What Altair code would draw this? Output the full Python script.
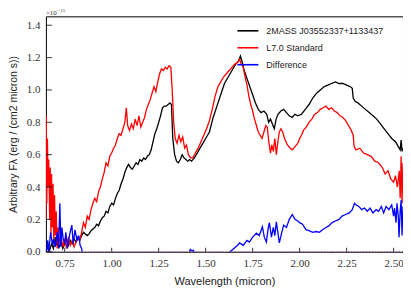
import altair as alt
import pandas as pd

# ---- data (flux in units of 1e-15) ----
black_w = [0.650,0.660,0.670,0.680,0.690,0.700,0.705,0.710,0.720,0.730,0.740,0.750,0.760,0.770,0.780,0.790,0.800,0.810,0.820,0.830,
           0.840,0.850,0.860,0.870,0.880,0.890,0.900,0.910,0.920,0.930,0.940,0.950,0.960,0.970,0.980,0.990,1.000,1.010,1.020,1.030,
           1.040,1.050,1.060,1.070,1.080,1.090,1.100,1.110,1.120,1.130,1.140,1.150,1.160,1.170,1.180,1.190,1.200,1.210,1.220,1.230,
           1.240,1.250,1.260,1.270,1.280,1.290,1.300,1.310,1.318,1.325,1.335,1.345,1.355,1.365,1.375,1.385,1.395,1.405,1.415,1.425,
           1.440,1.455,1.470,1.485,1.500,1.520,1.540,1.560,1.580,1.600,1.620,1.640,1.660,1.675,1.685,1.695,1.705,1.720,1.735,1.750,
           1.765,1.780,1.795,1.810,1.825,1.835,1.845,1.855,1.865,1.875,1.885,1.900,1.915,1.930,1.945,1.960,1.975,1.990,2.010,2.030,
           2.050,2.070,2.090,2.110,2.130,2.150,2.170,2.190,2.210,2.230,2.250,2.270,2.280,2.285,2.295,2.310,2.330,2.350,2.370,2.390,
           2.410,2.430,2.450,2.470,2.490,2.510,2.525,2.535,2.540,2.545,2.550]
black_f = [0.00,0.03,0.01,0.05,0.02,0.09,0.04,0.07,0.03,0.06,0.02,0.05,0.08,0.04,0.07,0.05,0.08,0.06,0.09,0.07,
           0.10,0.12,0.11,0.10,0.11,0.13,0.14,0.15,0.17,0.16,0.19,0.21,0.22,0.25,0.24,0.28,0.30,0.29,0.33,0.36,
           0.38,0.42,0.45,0.49,0.52,0.54,0.52,0.51,0.53,0.55,0.54,0.57,0.56,0.58,0.57,0.59,0.60,0.63,0.68,0.73,
           0.76,0.80,0.84,0.89,0.90,0.90,0.91,0.92,0.91,0.70,0.60,0.56,0.55,0.57,0.60,0.58,0.57,0.56,0.57,0.56,
           0.58,0.61,0.64,0.67,0.70,0.74,0.83,0.90,0.97,1.04,1.08,1.12,1.16,1.18,1.21,1.17,1.12,1.07,1.02,0.97,
           0.92,0.88,0.86,0.87,0.85,0.80,0.82,0.79,0.76,0.82,0.85,0.87,0.88,0.86,0.84,0.83,0.85,0.84,0.85,0.88,
           0.91,0.95,0.98,1.00,1.02,1.03,1.04,1.05,1.04,1.04,1.03,1.02,1.01,0.95,0.93,0.92,0.90,0.88,0.86,0.84,
           0.82,0.79,0.76,0.73,0.70,0.68,0.65,0.63,0.69,0.62,0.64]

red_w = [0.650,0.652,0.655,0.658,0.662,0.665,0.670,0.673,0.677,0.680,0.684,0.688,0.692,0.696,0.700,0.705,0.710,0.715,0.720,0.730,
         0.740,0.750,0.760,0.770,0.780,0.790,0.800,0.810,0.820,0.830,0.840,0.850,0.860,0.870,0.880,0.890,0.900,0.910,0.920,0.930,
         0.940,0.950,0.960,0.970,0.980,0.990,1.000,1.010,1.020,1.030,1.040,1.050,1.060,1.070,1.078,1.085,1.095,1.105,1.115,1.125,
         1.135,1.145,1.155,1.165,1.175,1.185,1.195,1.205,1.215,1.225,1.235,1.245,1.255,1.265,1.275,1.285,1.295,1.305,1.315,1.322,
         1.330,1.338,1.348,1.358,1.368,1.378,1.388,1.398,1.408,1.420,1.432,1.445,1.460,1.475,1.490,1.505,1.520,1.535,1.550,1.565,
         1.580,1.595,1.610,1.625,1.640,1.655,1.670,1.680,1.690,1.700,1.710,1.720,1.730,1.740,1.750,1.760,1.770,1.780,1.790,1.800,
         1.810,1.820,1.828,1.836,1.845,1.852,1.860,1.868,1.876,1.884,1.892,1.900,1.910,1.920,1.935,1.950,1.962,1.975,1.990,2.000,
         2.010,2.020,2.035,2.050,2.065,2.080,2.095,2.110,2.125,2.140,2.155,2.170,2.185,2.200,2.215,2.230,2.245,2.260,2.275,2.285,
         2.290,2.300,2.320,2.340,2.360,2.380,2.400,2.420,2.440,2.455,2.470,2.485,2.500,2.510,2.520,2.530,2.535,2.540,2.545,2.550]
red_f = [0.20,0.84,0.30,0.70,0.40,0.57,0.20,0.52,0.10,0.48,0.15,0.42,0.05,0.35,0.10,0.25,0.02,0.15,0.05,0.10,
         0.03,0.08,0.02,0.09,0.04,0.07,0.03,0.06,0.08,0.07,0.12,0.18,0.15,0.22,0.20,0.26,0.30,0.33,0.31,0.37,
         0.40,0.45,0.49,0.55,0.53,0.59,0.61,0.64,0.66,0.70,0.73,0.72,0.76,0.80,0.89,0.78,0.75,0.79,0.76,0.82,
         0.78,0.84,0.77,0.80,0.83,0.88,0.91,0.94,0.98,1.02,0.99,1.05,1.10,1.13,1.12,1.14,1.13,1.15,1.14,1.00,
         0.80,0.70,0.67,0.72,0.68,0.71,0.64,0.66,0.60,0.58,0.58,0.61,0.64,0.68,0.72,0.76,0.81,0.88,0.96,1.02,
         1.05,1.08,1.10,1.12,1.14,1.16,1.17,1.19,1.16,1.14,1.08,1.03,0.96,0.91,0.87,0.82,0.78,0.74,0.72,0.70,
         0.74,0.78,0.77,0.68,0.61,0.66,0.62,0.70,0.60,0.68,0.74,0.76,0.74,0.70,0.66,0.64,0.63,0.65,0.67,0.70,
         0.72,0.75,0.77,0.80,0.82,0.85,0.86,0.88,0.89,0.90,0.88,0.89,0.87,0.86,0.84,0.83,0.81,0.78,0.75,0.72,
         0.65,0.63,0.64,0.61,0.60,0.59,0.56,0.55,0.52,0.48,0.50,0.45,0.43,0.47,0.40,0.50,0.33,0.59,0.30,0.55]

blue_w = [0.650,0.655,0.660,0.665,0.675,0.685,0.690,0.700,0.710,0.718,0.724,0.730,0.735,0.742,0.750,0.756,0.765,0.775,0.788,0.795,
          0.805,0.815,0.825,0.832,0.840,0.850,0.900,1.000,1.100,1.200,1.300,1.330,1.380,1.410,1.418,1.428,1.435,1.445,1.500,1.600,
          1.630,1.650,1.670,1.680,1.700,1.720,1.733,1.750,1.770,1.785,1.802,1.812,1.823,1.832,1.839,1.850,1.860,1.868,1.876,1.884,
          1.892,1.905,1.915,1.930,1.945,1.961,1.975,1.990,2.000,2.015,2.035,2.050,2.070,2.088,2.105,2.120,2.140,2.155,2.173,2.190,
          2.210,2.226,2.245,2.264,2.280,2.292,2.300,2.315,2.330,2.345,2.360,2.375,2.390,2.407,2.420,2.435,2.447,2.460,2.475,2.490,
          2.500,2.505,2.513,2.518,2.525,2.529,2.535,2.540,2.545,2.550]
blue_f = [0.00,0.01,0.07,0.00,0.12,0.04,0.08,0.03,0.12,0.02,0.30,0.03,0.15,0.08,0.05,0.12,0.02,0.10,0.165,0.05,
          0.135,0.07,0.10,0.04,0.02,-0.06,-0.16,-0.31,-0.25,-0.34,-0.23,-0.10,-0.10,-0.02,0.015,0.005,0.01,-0.03,-0.06,-0.04,
          0.00,0.02,0.04,0.055,0.04,0.07,0.06,0.09,0.115,0.10,0.155,0.09,0.06,0.14,0.18,0.09,0.15,0.10,0.185,0.12,
          0.055,0.12,0.165,0.15,0.20,0.23,0.20,0.19,0.18,0.17,0.135,0.13,0.12,0.125,0.12,0.135,0.15,0.16,0.18,0.19,
          0.20,0.22,0.23,0.24,0.26,0.30,0.29,0.28,0.26,0.27,0.25,0.27,0.24,0.26,0.25,0.28,0.24,0.28,0.26,0.29,
          0.22,0.27,0.18,0.30,0.22,0.09,0.25,0.32,0.10,0.28]

series_names = ["2MASS J03552337+1133437", "L7.0 Standard", "Difference"]
series_colors = ["#000000", "#ff0000", "#0000ff"]
x_ticks = [0.75, 1.00, 1.25, 1.50, 1.75, 2.00, 2.25, 2.50]
y_ticks = [0.0, 0.2, 0.4, 0.6, 0.8, 1.0, 1.2, 1.4]
x_domain = [0.65, 2.55]
y_domain = [0.0, 1.455]

W, H = 358, 236

df = pd.concat([
    pd.DataFrame({"w": black_w, "f": black_f, "s": series_names[0], "o": 0}),
    pd.DataFrame({"w": red_w, "f": red_f, "s": series_names[1], "o": 1}),
    pd.DataFrame({"w": blue_w, "f": blue_f, "s": series_names[2], "o": 2}),
], ignore_index=True)

tick_font = "Liberation Serif"
label_font = "Liberation Sans"

xscale = alt.Scale(domain=x_domain, nice=False, zero=False)
yscale = alt.Scale(domain=y_domain, nice=False, zero=False)

xaxis = alt.Axis(values=x_ticks, format=".2f", title="Wavelength (micron)", tickSize=0,
                 labelPadding=6, grid=False, domain=False, labelFont=tick_font, labelFontSize=11,
                 labelColor="#333333", titleFont=label_font, titleFontSize=11, titleFontWeight="normal",
                 titleColor="#222222", titleY=30, titleBaseline="middle")
yaxis = alt.Axis(values=y_ticks, format=".1f", title="Arbitrary Fλ (erg / (cm2 micron s))", tickSize=0,
                 labelPadding=6, grid=False, domain=False, labelFont=tick_font, labelFontSize=11,
                 labelColor="#333333", titleFont=label_font, titleFontSize=10.5, titleFontWeight="normal",
                 titleColor="#222222", titleX=-32, titleY=H / 2, titleBaseline="middle", titleAngle=-90)

lines = alt.Chart(df).mark_line(strokeWidth=1.3, clip=True).encode(
    x=alt.X("w:Q", scale=xscale, axis=xaxis),
    y=alt.Y("f:Q", scale=yscale, axis=yaxis),
    color=alt.Color("s:N", scale=alt.Scale(domain=series_names, range=series_colors),
                    legend=alt.Legend(title=None, orient="none", legendX=191, legendY=3,
                                      symbolType="stroke", symbolSize=441, symbolStrokeWidth=1.6,
                                      labelFont=label_font, labelFontSize=9, labelColor="#222222",
                                      labelOffset=7, rowPadding=0, padding=0)),
    order="o:Q",
)

zero_line = alt.Chart(pd.DataFrame({"f": [0.0]})).mark_rule(
    color="#9b509b", strokeDash=[1, 2], strokeWidth=1).encode(
    y=alt.Y("f:Q", scale=yscale, axis=yaxis))

xt = alt.Chart(pd.DataFrame({"w": x_ticks})).mark_rule(color="black", strokeWidth=0.8).encode(
    x=alt.X("w:Q", scale=xscale, axis=xaxis), y=alt.value(H), y2=alt.value(H - 4))

yt = alt.Chart(pd.DataFrame({"f": y_ticks})).mark_rule(color="black", strokeWidth=0.8).encode(
    y=alt.Y("f:Q", scale=yscale, axis=yaxis), x=alt.value(0), x2=alt.value(6))

expo_base = alt.Chart(pd.DataFrame({"t": ["×10"]})).mark_text(
    align="left", baseline="alphabetic", fontSize=7, font=tick_font, color="#333333").encode(
    x=alt.value(0), y=alt.value(-1.5), text="t:N")
expo_pow = alt.Chart(pd.DataFrame({"t": ["−15"]})).mark_text(
    align="left", baseline="alphabetic", fontSize=5, font=tick_font, color="#333333").encode(
    x=alt.value(11.5), y=alt.value(-4), text="t:N")

chart = alt.layer(lines, zero_line, xt, yt, expo_base, expo_pow).properties(
    width=W, height=H, autosize=alt.AutoSizeParams(type="none"),
    padding={"left": 38, "top": 8, "right": 0, "bottom": 40},
).configure_view(stroke="black", strokeWidth=1)

chart.save("out.html", embed_options={"renderer": "svg", "actions": False})
